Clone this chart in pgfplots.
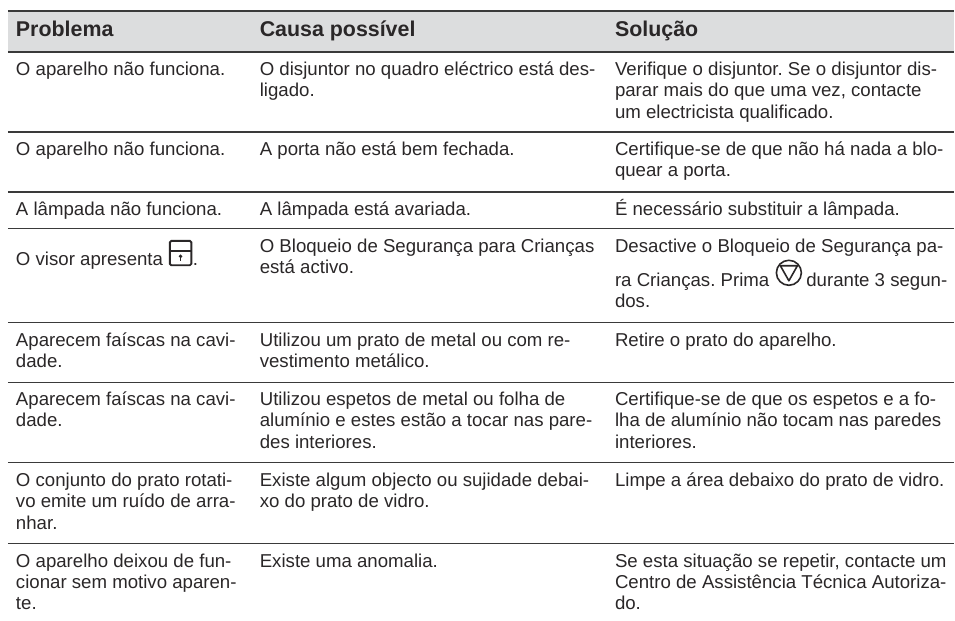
\documentclass[border=0pt]{standalone}
\usepackage{pgfplots}
\pgfplotsset{compat=1.18}
\usepackage{fontspec}
\setmainfont{Liberation Sans}
\frenchspacing
\definecolor{txt}{HTML}{2A2728}
\definecolor{band}{HTML}{DCDDDE}
\definecolor{rule}{HTML}{3A3A3A}
\newcommand{\Tx}[3]{\node[anchor=base west,inner sep=0pt,outer sep=0pt,text=txt,font=\fontsize{18.65pt}{21pt}\selectfont] at (axis cs:#1,#2) {#3};}
\newcommand{\Hd}[3]{\node[anchor=base west,inner sep=0pt,outer sep=0pt,text=txt,font=\fontsize{21.4pt}{24pt}\selectfont\bfseries] at (axis cs:#1,#2) {#3};}
\begin{document}
\begin{tikzpicture}
\begin{axis}[
  width=955pt,height=621pt,scale only axis,
  xmin=0,xmax=955,ymin=0,ymax=621,y dir=reverse,
  hide axis,clip=false]
\path (axis cs:0,0) rectangle (axis cs:955,621);
% header band
\addplot[fill=band,draw=none] coordinates {(8,11) (955,11) (955,52) (8,52)} --cycle;
% rules
\addplot[rule,line width=1.5pt] coordinates {(8,11) (955,11)};
\addplot[rule,line width=1.5pt] coordinates {(8,52) (955,52)};
\addplot[rule,line width=1.3pt] coordinates {(8,132) (955,132)};
\addplot[rule,line width=1.3pt] coordinates {(8,192) (955,192)};
\addplot[rule,line width=1.3pt] coordinates {(8,229) (955,229)};
\addplot[rule,line width=1.3pt] coordinates {(8,323) (955,323)};
\addplot[rule,line width=1.3pt] coordinates {(8,383) (955,383)};
\addplot[rule,line width=1.3pt] coordinates {(8,463) (955,463)};
\addplot[rule,line width=1.3pt] coordinates {(8,544) (955,544)};
% header
\Hd{16}{37}{Problema}
\Hd{260}{37}{Causa possível}
\Hd{615.5}{37}{Solução}
% row 1
\Tx{16}{76}{O aparelho não funciona.}
\Tx{260}{76}{O disjuntor no quadro eléctrico está des-}
\Tx{260}{97}{ligado.}
\Tx{615.5}{76}{Verifique o disjuntor. Se o disjuntor dis-}
\Tx{615.5}{97}{parar mais do que uma vez, contacte}
\Tx{615.5}{119}{um electricista qualificado.}
% row 2
\Tx{16}{156}{O aparelho não funciona.}
\Tx{260}{156}{A porta não está bem fechada.}
\Tx{615.5}{156}{Certifique-se de que não há nada a blo-}
\Tx{615.5}{177}{quear a porta.}
% row 3
\Tx{16}{216}{A lâmpada não funciona.}
\Tx{260}{216}{A lâmpada está avariada.}
\Tx{615.5}{216}{É necessário substituir a lâmpada.}
% row 4
\Tx{16}{266}{O visor apresenta}
\Tx{193}{266}{.}
\Tx{260}{253}{O Bloqueio de Segurança para Crianças}
\Tx{260}{274}{está activo.}
\Tx{615.5}{253}{Desactive o Bloqueio de Segurança pa-}
\Tx{615.5}{287}{ra Crianças. Prima}
\Tx{807}{287}{durante 3 segun-}
\Tx{615.5}{308}{dos.}
% row 5
\Tx{16}{347}{Aparecem faíscas na cavi-}
\Tx{16}{368}{dade.}
\Tx{260}{347}{Utilizou um prato de metal ou com re-}
\Tx{260}{368}{vestimento metálico.}
\Tx{615.5}{347}{Retire o prato do aparelho.}
% row 6
\Tx{16}{406}{Aparecem faíscas na cavi-}
\Tx{16}{427}{dade.}
\Tx{260}{406}{Utilizou espetos de metal ou folha de}
\Tx{260}{427}{alumínio e estes estão a tocar nas pare-}
\Tx{260}{449}{des interiores.}
\Tx{615.5}{406}{Certifique-se de que os espetos e a fo-}
\Tx{615.5}{427}{lha de alumínio não tocam nas paredes}
\Tx{615.5}{449}{interiores.}
% row 7
\Tx{16}{487}{O conjunto do prato rotati-}
\Tx{16}{508}{vo emite um ruído de arra-}
\Tx{16}{530}{nhar.}
\Tx{260}{487}{Existe algum objecto ou sujidade debai-}
\Tx{260}{508}{xo do prato de vidro.}
\Tx{615.5}{487}{Limpe a área debaixo do prato de vidro.}
% row 8
\Tx{16}{568}{O aparelho deixou de fun-}
\Tx{16}{589}{cionar sem motivo aparen-}
\Tx{16}{610}{te.}
\Tx{260}{568}{Existe uma anomalia.}
\Tx{615.5}{568}{Se esta situação se repetir, contacte um}
\Tx{615.5}{589}{Centro de Assistência Técnica Autoriza-}
\Tx{615.5}{610}{do.}
% lock icon
\draw[txt,line width=1.9pt,rounded corners=1.5pt] (axis cs:170,241) rectangle (axis cs:191.5,265.5);
\draw[txt,line width=1.6pt] (axis cs:170,251) -- (axis cs:191.5,251);
\fill[txt] (axis cs:180.7,256.5) circle (1.9pt);
\draw[txt,line width=1.1pt] (axis cs:180.7,256.5) -- (axis cs:180.7,261.5);
% down-triangle-in-circle icon
\draw[txt,line width=1.6pt] (axis cs:789.5,273) circle (12.5pt);
\draw[txt,line width=1.6pt,line join=round] (axis cs:781,266) -- (axis cs:798,266) -- (axis cs:789.5,281) -- cycle;
\end{axis}
\end{tikzpicture}
\end{document}
